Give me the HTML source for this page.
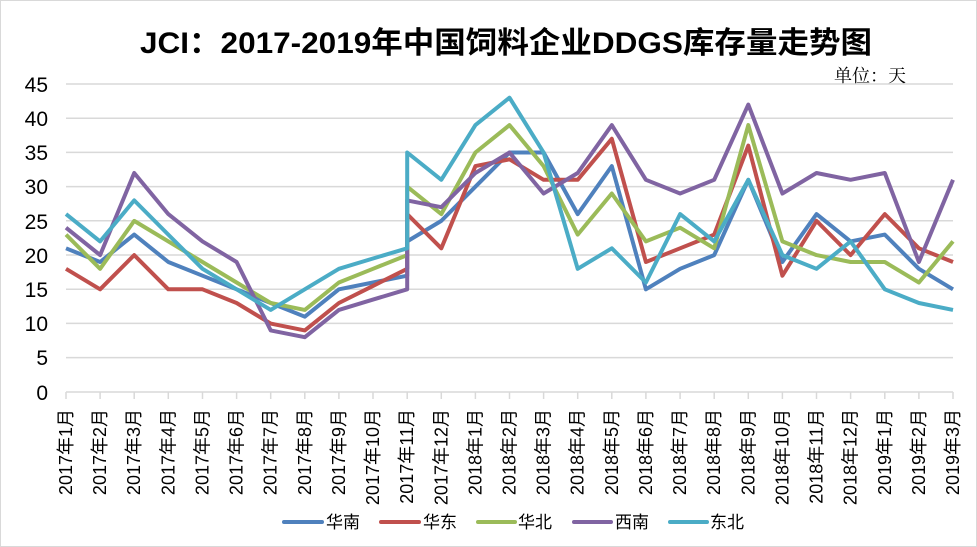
<!DOCTYPE html>
<html><head><meta charset="utf-8"><style>
html,body{margin:0;padding:0;background:#fff}
svg{display:block}
</style></head><body>
<svg width="977" height="547" xmlns="http://www.w3.org/2000/svg" font-family="'Liberation Sans','Noto Sans CJK SC',sans-serif">
<rect x="0.5" y="0.5" width="976" height="546" fill="#fff" stroke="#d9d9d9"/>
<text x="140" y="53" font-size="30" font-weight="bold" textLength="732" lengthAdjust="spacingAndGlyphs">JCI：2017-2019年中国饲料企业DDGS库存量走势图</text>
<text x="834" y="82" font-size="18" font-family="'Liberation Serif','Noto Serif CJK SC',serif">单位：天</text>
<g stroke="#d9d9d9" stroke-width="1.5">
<line x1="66" x2="953" y1="84" y2="84"/><line x1="66" x2="953" y1="118.2" y2="118.2"/><line x1="66" x2="953" y1="152.4" y2="152.4"/><line x1="66" x2="953" y1="186.6" y2="186.6"/><line x1="66" x2="953" y1="220.8" y2="220.8"/><line x1="66" x2="953" y1="255" y2="255"/><line x1="66" x2="953" y1="289.2" y2="289.2"/><line x1="66" x2="953" y1="323.4" y2="323.4"/><line x1="66" x2="953" y1="357.6" y2="357.6"/><line x1="66" x2="953" y1="392" y2="392"/>
<path d="M66 392v7M100.1 392v7M134.2 392v7M168.3 392v7M202.5 392v7M236.6 392v7M270.7 392v7M304.8 392v7M338.9 392v7M373 392v7M407.2 392v7M441.3 392v7M475.4 392v7M509.5 392v7M543.6 392v7M577.7 392v7M611.8 392v7M645.9 392v7M680.1 392v7M714.2 392v7M748.3 392v7M782.4 392v7M816.5 392v7M850.6 392v7M884.8 392v7M918.9 392v7M953 392v7"/>
</g>
<g font-size="21" text-anchor="end" fill="#000">
<text x="48" y="92">45</text><text x="48" y="126">40</text><text x="48" y="160">35</text><text x="48" y="194">30</text><text x="48" y="229">25</text><text x="48" y="263">20</text><text x="48" y="297">15</text><text x="48" y="331">10</text><text x="48" y="365">5</text><text x="48" y="400">0</text>
</g>
<g font-size="18" text-anchor="end">
<text transform="translate(72,409) rotate(-90)">2017年1月</text>
<text transform="translate(106.1,409) rotate(-90)">2017年2月</text>
<text transform="translate(140.2,409) rotate(-90)">2017年3月</text>
<text transform="translate(174.3,409) rotate(-90)">2017年4月</text>
<text transform="translate(208.5,409) rotate(-90)">2017年5月</text>
<text transform="translate(242.6,409) rotate(-90)">2017年6月</text>
<text transform="translate(276.7,409) rotate(-90)">2017年7月</text>
<text transform="translate(310.8,409) rotate(-90)">2017年8月</text>
<text transform="translate(344.9,409) rotate(-90)">2017年9月</text>
<text transform="translate(379,409) rotate(-90)">2017年10月</text>
<text transform="translate(413.2,409) rotate(-90)">2017年11月</text>
<text transform="translate(447.3,409) rotate(-90)">2017年12月</text>
<text transform="translate(481.4,409) rotate(-90)">2018年1月</text>
<text transform="translate(515.5,409) rotate(-90)">2018年2月</text>
<text transform="translate(549.6,409) rotate(-90)">2018年3月</text>
<text transform="translate(583.7,409) rotate(-90)">2018年4月</text>
<text transform="translate(617.8,409) rotate(-90)">2018年5月</text>
<text transform="translate(651.9,409) rotate(-90)">2018年6月</text>
<text transform="translate(686.1,409) rotate(-90)">2018年7月</text>
<text transform="translate(720.2,409) rotate(-90)">2018年8月</text>
<text transform="translate(754.3,409) rotate(-90)">2018年9月</text>
<text transform="translate(788.4,409) rotate(-90)">2018年10月</text>
<text transform="translate(822.5,409) rotate(-90)">2018年11月</text>
<text transform="translate(856.6,409) rotate(-90)">2018年12月</text>
<text transform="translate(890.8,409) rotate(-90)">2019年1月</text>
<text transform="translate(924.9,409) rotate(-90)">2019年2月</text>
<text transform="translate(959,409) rotate(-90)">2019年3月</text>
</g>
<g fill="none" stroke-width="4" stroke-linejoin="round">
<polyline stroke="#4f81bd" points="66,248.3 100.1,262 134.2,234.6 168.3,262 202.5,275.7 236.6,289.3 270.7,303 304.8,316.7 338.9,289.3 373,282.5 407.2,275.7 407.2,241.4 441.3,220.9 475.4,186.7 509.5,152.5 543.6,152.5 577.7,214.1 611.8,166.1 645.9,289.3 680.1,268.8 714.2,255.1 748.3,179.8 782.4,262 816.5,214.1 850.6,241.4 884.8,234.6 918.9,268.8 953,289.3"/>
<polyline stroke="#c0504d" points="66,268.8 100.1,289.3 134.2,255.1 168.3,289.3 202.5,289.3 236.6,303 270.7,323.6 304.8,330.4 338.9,303 373,285.9 407.2,268.8 407.2,214.1 441.3,248.3 475.4,166.1 509.5,159.3 543.6,179.8 577.7,179.8 611.8,138.8 645.9,262 680.1,248.3 714.2,234.6 748.3,145.6 782.4,275.7 816.5,220.9 850.6,255.1 884.8,214.1 918.9,248.3 953,262"/>
<polyline stroke="#9bbb59" points="66,234.6 100.1,268.8 134.2,220.9 168.3,241.4 202.5,262 236.6,282.5 270.7,303 304.8,309.9 338.9,282.5 373,268.8 407.2,255.1 407.2,186.7 441.3,214.1 475.4,152.5 509.5,125.1 543.6,166.1 577.7,234.6 611.8,193.5 645.9,241.4 680.1,227.7 714.2,248.3 748.3,125.1 782.4,241.4 816.5,255.1 850.6,262 884.8,262 918.9,282.5 953,241.4"/>
<polyline stroke="#8064a2" points="66,227.7 100.1,255.1 134.2,173 168.3,214.1 202.5,241.4 236.6,262 270.7,330.4 304.8,337.2 338.9,309.9 373,299.6 407.2,289.3 407.2,200.4 441.3,207.2 475.4,173 509.5,152.5 543.6,193.5 577.7,173 611.8,125.1 645.9,179.8 680.1,193.5 714.2,179.8 748.3,104.6 782.4,193.5 816.5,173 850.6,179.8 884.8,173 918.9,262 953,179.8"/>
<polyline stroke="#4bacc6" points="66,214.1 100.1,241.4 134.2,200.4 168.3,234.6 202.5,268.8 236.6,289.3 270.7,309.9 304.8,289.3 338.9,268.8 373,258.5 407.2,248.3 407.2,152.5 441.3,179.8 475.4,125.1 509.5,97.7 543.6,152.5 577.7,268.8 611.8,248.3 645.9,282.5 680.1,214.1 714.2,241.4 748.3,179.8 782.4,255.1 816.5,268.8 850.6,241.4 884.8,289.3 918.9,303 953,309.9"/>
</g>
<g font-size="17">
<line x1="284" x2="322" y1="522" y2="522" stroke="#4f81bd" stroke-width="4" stroke-linecap="round"/><text x="326" y="528">华南</text>
<line x1="381" x2="419" y1="522" y2="522" stroke="#c0504d" stroke-width="4" stroke-linecap="round"/><text x="423" y="528">华东</text>
<line x1="478" x2="515" y1="522" y2="522" stroke="#9bbb59" stroke-width="4" stroke-linecap="round"/><text x="518" y="528">华北</text>
<line x1="574" x2="611" y1="522" y2="522" stroke="#8064a2" stroke-width="4" stroke-linecap="round"/><text x="615" y="528">西南</text>
<line x1="670" x2="707" y1="522" y2="522" stroke="#4bacc6" stroke-width="4" stroke-linecap="round"/><text x="710" y="528">东北</text>
</g>
</svg>
</body></html>
